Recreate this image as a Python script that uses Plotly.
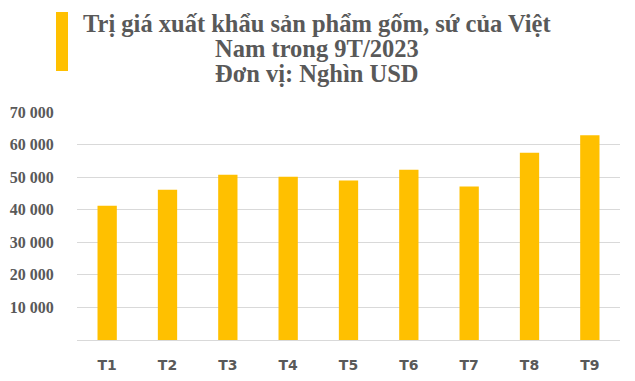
import plotly.graph_objects as go

months = ["T1", "T2", "T3", "T4", "T5", "T6", "T7", "T8", "T9"]
values = [41200, 46100, 50700, 50100, 49000, 52300, 47100, 57500, 62900]
y_tickvals = [10000, 20000, 30000, 40000, 50000, 60000, 70000]
y_ticktext = ["10 000", "20 000", "30 000", "40 000", "50 000", "60 000", "70 000"]
title_lines = ["Trị giá xuất khẩu sản phẩm gốm, sứ của Việt",
               "Nam trong 9T/2023",
               "Đơn vị: Nghìn USD"]

W, H = 635, 381
L, R, T, B = 77, 15, 112, 41
pw, ph = W - L - R, H - T - B

def px_x(x):
    return (x - L) / pw

def px_y(y):
    return (H - B - y) / ph

fig = go.Figure(go.Bar(x=months, y=values, marker_color="#FFC000",
                       marker_line_width=0, width=0.32))

fig.update_layout(
    width=W, height=H,
    margin=dict(l=L, r=R, t=T, b=B, autoexpand=False),
    plot_bgcolor="white", paper_bgcolor="white",
    showlegend=False,
    bargap=0.68,
)
fig.update_xaxes(
    showgrid=False, showline=True, linecolor="#d9d9d9", linewidth=1,
    ticks="outside", ticklen=12, tickcolor="rgba(0,0,0,0)", automargin=False,
    tickfont=dict(family="DejaVu Sans", size=14, color="#595959", weight="bold"),
)
fig.update_yaxes(
    range=[0, 70000], tickvals=y_tickvals, ticktext=y_ticktext,
    showgrid=True, gridcolor="#d9d9d9", gridwidth=1, zeroline=False,
    ticks="outside", ticklen=19, tickcolor="rgba(0,0,0,0)", automargin=False,
    tickfont=dict(family="Liberation Serif", size=16, color="#595959", weight="bold"),
)

line_y = [23, 48.5, 74]
for txt, yp in zip(title_lines, line_y):
    fig.add_annotation(text=txt, xref="paper", yref="paper",
                       x=px_x(316.5), y=px_y(yp), xanchor="center", yanchor="middle",
                       showarrow=False,
                       font=dict(family="Liberation Serif", size=24.5, color="#595959", weight="bold"))

fig.add_shape(type="rect", xref="paper", yref="paper",
              x0=px_x(56), x1=px_x(68), y0=px_y(71), y1=px_y(12),
              fillcolor="#FFC000", line_width=0)

fig.write_html("out.html", config={"displayModeBar": False},
               post_script="document.body.style.margin='0';")
